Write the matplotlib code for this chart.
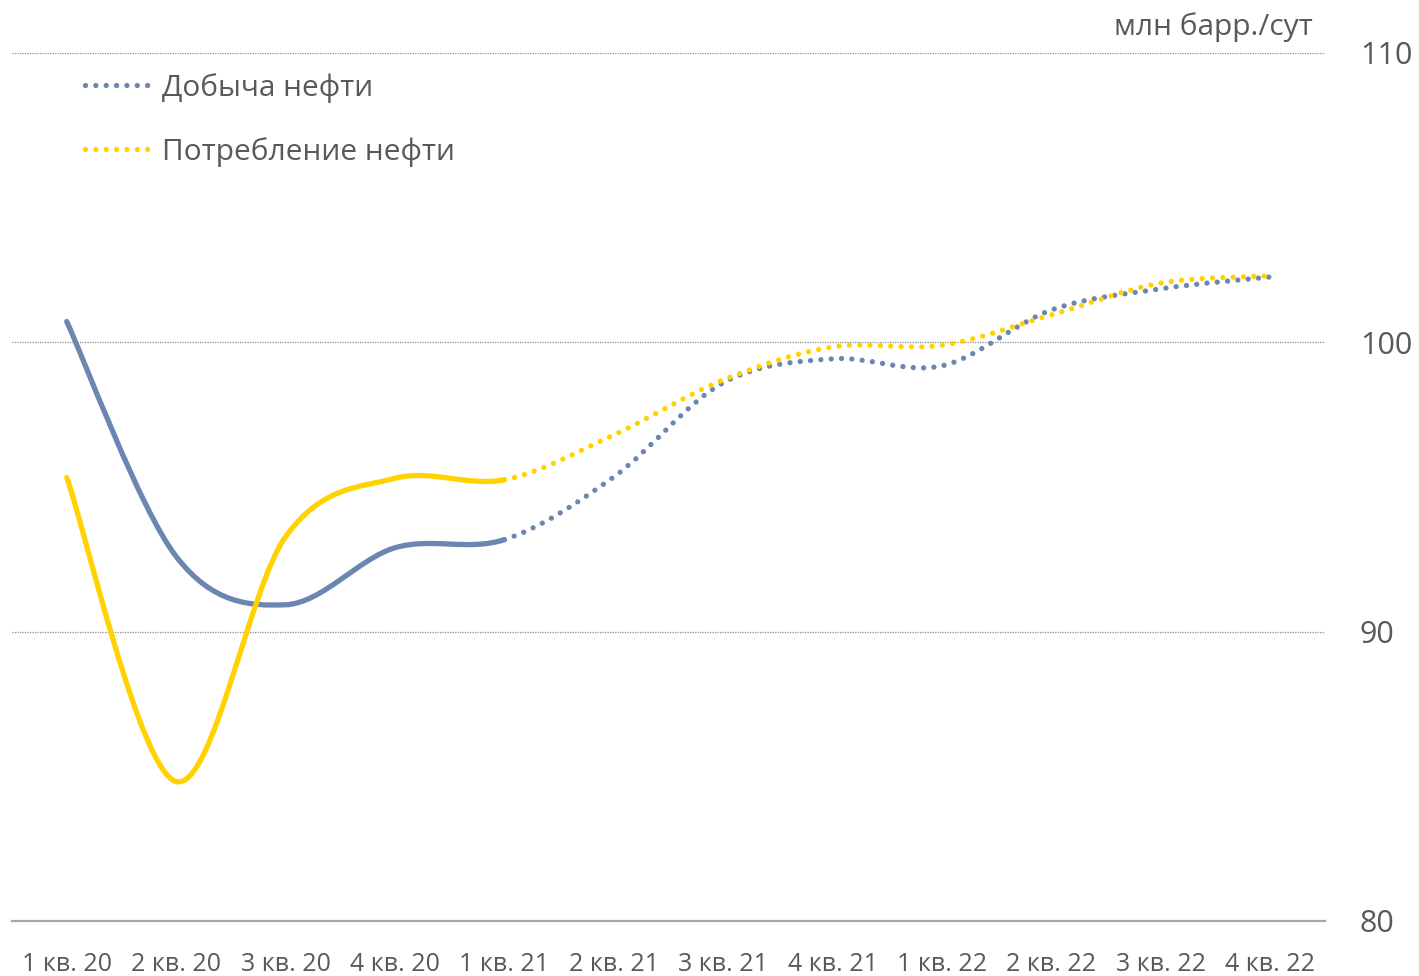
import numpy as np
import matplotlib
matplotlib.use('Agg')
import matplotlib.pyplot as plt
from matplotlib.path import Path
from matplotlib.patches import PathPatch
from matplotlib.lines import Line2D

# Quarterly data, mln barrels per day (forecast starts after 1 кв. 21)
quarters = ['1 кв. 20', '2 кв. 20', '3 кв. 20', '4 кв. 20', '1 кв. 21', '2 кв. 21',
            '3 кв. 21', '4 кв. 21', '1 кв. 22', '2 кв. 22', '3 кв. 22', '4 кв. 22']
production = [100.72, 92.6, 90.93, 92.9, 93.18, 95.35, 98.6, 99.43, 99.19, 101.12, 101.85, 102.26]
consumption = [95.33, 84.82, 93.28, 95.3, 95.25, 96.8, 98.7, 99.84, 99.9, 100.95, 102.05, 102.3]
actual_end = 4  # index of last actual quarter

blue = '#6B86B0'
yellow = '#FFD200'
text_color = '#595959'

plt.rcParams['font.family'] = ['Open Sans', 'DejaVu Sans']


def smooth_path(xs, ys, start, stop):
    # Excel-like smoothed line: cubic bezier through points (Catmull-Rom style)
    n = len(xs)
    verts = [(xs[start], ys[start])]
    codes = [Path.MOVETO]
    for i in range(start, stop):
        p0 = max(i - 1, 0)
        p3 = min(i + 2, n - 1)
        c1 = (xs[i] + (xs[i + 1] - xs[p0]) / 6, ys[i] + (ys[i + 1] - ys[p0]) / 6)
        c2 = (xs[i + 1] - (xs[p3] - xs[i]) / 6, ys[i + 1] - (ys[p3] - ys[i]) / 6)
        verts += [c1, c2, (xs[i + 1], ys[i + 1])]
        codes += [Path.CURVE4] * 3
    return Path(verts, codes)


fig = plt.figure(figsize=(14.19, 9.76), dpi=100)
ax = fig.add_axes([12 / 1419, 1 - 921 / 976, (1325 - 12) / 1419, (921 - 53) / 976])

x = np.arange(len(quarters))
lw = 3.8
dots = (0, (0.01, 1.95))

for series, color in [(production, blue), (consumption, yellow)]:
    solid = PathPatch(smooth_path(x, series, 0, actual_end), fill=False,
                      edgecolor=color, lw=lw, capstyle='round', joinstyle='round', zorder=3)
    dotted = PathPatch(smooth_path(x, series, actual_end, len(x) - 1), fill=False,
                       edgecolor=color, lw=lw, linestyle=dots, capstyle='round', zorder=3)
    ax.add_patch(solid)
    ax.add_patch(dotted)

ax.set_xlim(-0.5, len(quarters) - 0.5)
ax.set_ylim(80, 110)
ax.set_xticks(x)
ax.set_xticklabels(quarters)
ax.set_yticks([80, 90, 100, 110])
ax.yaxis.tick_right()
ax.tick_params(axis='both', length=0, colors=text_color)
ax.tick_params(axis='x', labelsize=18, pad=22)
ax.tick_params(axis='y', labelsize=22, pad=25)

for v in [90, 100, 110]:
    ax.axhline(v, color='#8C8C8C', lw=0.9, linestyle=(0, (1, 1)), zorder=1)

for side in ['top', 'right', 'left']:
    ax.spines[side].set_visible(False)
ax.spines['bottom'].set_color('#A6A6A6')
ax.spines['bottom'].set_linewidth(1.6)

handles = [Line2D([], [], color=blue, lw=lw, linestyle=dots, dash_capstyle='round'),
           Line2D([], [], color=yellow, lw=lw, linestyle=dots, dash_capstyle='round')]
leg = ax.legend(handles, ['Добыча нефти', 'Потребление нефти'], loc='upper left',
                bbox_to_anchor=(0.035, 1.008), frameon=False, fontsize=21.5,
                handlelength=2.1, handletextpad=0.5, labelspacing=1.15, labelcolor=text_color)

fig.text(1313 / 1419, 1 - 27 / 976, 'млн барр./сут', ha='right', va='center',
         fontsize=21.5, color=text_color)

fig.savefig('out.png', dpi=100)
